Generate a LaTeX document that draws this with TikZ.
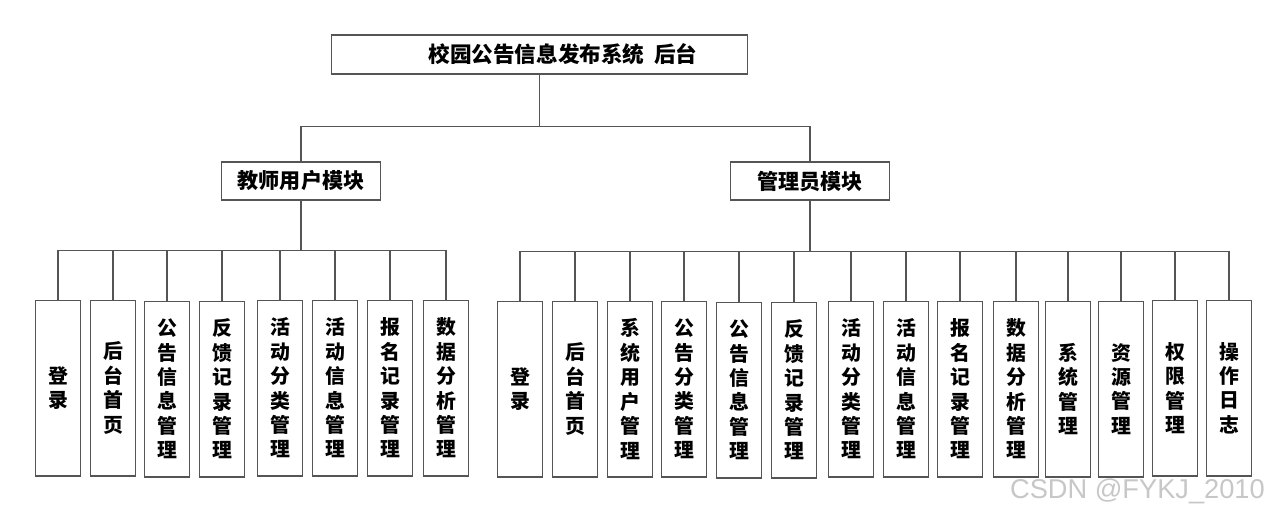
\documentclass[tikz,border=0pt]{standalone}
\usepackage{fontspec}
\newfontfamily\cjk{Noto Sans CJK SC}
\newfontfamily\markfont{Liberation Sans}
\usepackage{tikz}
\usetikzlibrary{positioning}

\tikzset{
  linecol/.style={draw={rgb,255:red,85;green,85;blue,85}, line width=0.6pt},
  topbox/.style={linecol, fill=white, minimum width=8.34cm, minimum height=0.78cm,
    font=\cjk\bfseries\fontsize{12.3}{14}\selectfont},
  modbox/.style={linecol, fill=white, minimum width=3.18cm, minimum height=0.76cm,
    font=\cjk\bfseries\fontsize{12}{14}\selectfont},
  leafbox/.style={linecol, fill=white, minimum width=0.9cm, minimum height=3.52cm,
    inner sep=0pt, align=center, font=\cjk\bfseries\fontsize{11.3}{13.9}\selectfont},
  wire/.style={linecol}
}

\begin{document}
\begin{tikzpicture}[x=0.02cm, y=-0.02cm]
		\useasboundingbox (0,0) rectangle (1288,515);

		% Root
		\node [topbox] (root) at (539.5,54.5) {\hspace{0.94cm}校园公告信息发布系统\hspace{0.45em}后台};

		% Modules
		\node [modbox] (teacher) at (301,181) {教师用户模块};
		\node [modbox] (admin) at (810,181) {管理员模块};

		\draw [wire] (root.south) -- ++(0,52) -| (teacher.north);
		\draw [wire] (root.south) -- ++(0,52) -| (admin.north);

		% Teacher leaves
		\node [leafbox] (t1) at (58,388) {登\\录};
		\node [leafbox] (t2) at (113,388) {后\\台\\首\\页};
		\node [leafbox] (t3) at (167,389) {公\\告\\信\\息\\管\\理};
		\node [leafbox] (t4) at (222,389) {反\\馈\\记\\录\\管\\理};
		\node [leafbox] (t5) at (280,388) {活\\动\\分\\类\\管\\理};
		\node [leafbox] (t6) at (335,388) {活\\动\\信\\息\\管\\理};
		\node [leafbox] (t7) at (390,388) {报\\名\\记\\录\\管\\理};
		\node [leafbox] (t8) at (446,388) {数\\据\\分\\析\\管\\理};

		\draw [wire] (teacher.south) -- ++(0,50) -| (t1.north);
		\draw [wire] (teacher.south) -- ++(0,50) -| (t2.north);
		\draw [wire] (teacher.south) -- ++(0,50) -| (t3.north);
		\draw [wire] (teacher.south) -- ++(0,50) -| (t4.north);
		\draw [wire] (teacher.south) -- ++(0,50) -| (t5.north);
		\draw [wire] (teacher.south) -- ++(0,50) -| (t6.north);
		\draw [wire] (teacher.south) -- ++(0,50) -| (t7.north);
		\draw [wire] (teacher.south) -- ++(0,50) -| (t8.north);

		% Admin leaves
		\node [leafbox] (a1) at (520,389) {登\\录};
		\node [leafbox] (a2) at (575,389) {后\\台\\首\\页};
		\node [leafbox] (a3) at (630,389) {系\\统\\用\\户\\管\\理};
		\node [leafbox] (a4) at (684,389) {公\\告\\分\\类\\管\\理};
		\node [leafbox] (a5) at (739,390) {公\\告\\信\\息\\管\\理};
		\node [leafbox] (a6) at (794,390) {反\\馈\\记\\录\\管\\理};
		\node [leafbox] (a7) at (851,389) {活\\动\\分\\类\\管\\理};
		\node [leafbox] (a8) at (906,389) {活\\动\\信\\息\\管\\理};
		\node [leafbox] (a9) at (960,389) {报\\名\\记\\录\\管\\理};
		\node [leafbox] (a10) at (1016,389) {数\\据\\分\\析\\管\\理};
		\node [leafbox] (a11) at (1068,389) {系\\统\\管\\理};
		\node [leafbox] (a12) at (1121,389) {资\\源\\管\\理};
		\node [leafbox] (a13) at (1175,388) {权\\限\\管\\理};
		\node [leafbox] (a14) at (1229,388) {操\\作\\日\\志};

		\draw [wire] (admin.south) -- ++(0,51) -| (a1.north);
		\draw [wire] (admin.south) -- ++(0,51) -| (a2.north);
		\draw [wire] (admin.south) -- ++(0,51) -| (a3.north);
		\draw [wire] (admin.south) -- ++(0,51) -| (a4.north);
		\draw [wire] (admin.south) -- ++(0,51) -| (a5.north);
		\draw [wire] (admin.south) -- ++(0,51) -| (a6.north);
		\draw [wire] (admin.south) -- ++(0,51) -| (a7.north);
		\draw [wire] (admin.south) -- ++(0,51) -| (a8.north);
		\draw [wire] (admin.south) -- ++(0,51) -| (a9.north);
		\draw [wire] (admin.south) -- ++(0,51) -| (a10.north);
		\draw [wire] (admin.south) -- ++(0,51) -| (a11.north);
		\draw [wire] (admin.south) -- ++(0,51) -| (a12.north);
		\draw [wire] (admin.south) -- ++(0,51) -| (a13.north);
		\draw [wire] (admin.south) -- ++(0,51) -| (a14.north);

		% Watermark
		\node [text=black!22, font=\markfont\fontsize{15.5}{18}\selectfont, anchor=east]
			(mark) at (1271,491) {CSDN @FYKJ\_2010};
	\end{tikzpicture}
\end{document}
